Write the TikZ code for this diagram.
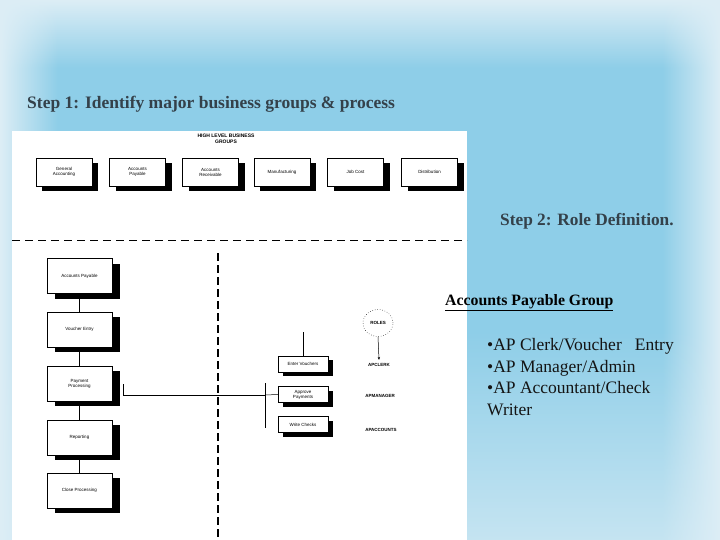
\documentclass[tikz,border=0pt]{standalone}
\usepackage{fontspec}
\setmainfont{Liberation Serif}
\newfontfamily\boxfont{Liberation Sans}
\usetikzlibrary{shadows,shapes.geometric,fadings,arrows.meta}
\definecolor{bgmid}{HTML}{8ECEE8}
\definecolor{bgedge}{HTML}{DDEEF6}
\definecolor{titlecol}{HTML}{34414A}
\tikzfading[name=fadetop, top color=transparent!0, bottom color=transparent!100]
\tikzfading[name=fadebot, top color=transparent!100, bottom color=transparent!0]
\tikzfading[name=fadeleft, left color=transparent!0, right color=transparent!100]
\tikzfading[name=faderight, left color=transparent!100, right color=transparent!0]
\tikzset{
  topbox/.style={draw, line width=0.4pt, fill=white, minimum width=56pt, minimum height=28pt,
    inner sep=1pt, align=center, font=\boxfont\fontsize{4.5}{5}\selectfont,
    drop shadow={shadow xshift=6pt, shadow yshift=-5pt, opacity=1, fill=black}},
  leftbox/.style={draw, line width=0.4pt, fill=white, minimum width=65pt, minimum height=35pt,
    inner sep=1pt, align=center, font=\boxfont\fontsize{4.5}{5}\selectfont,
    drop shadow={shadow xshift=8pt, shadow yshift=-5pt, opacity=1, fill=black}},
  rolebox/.style={draw, line width=0.4pt, fill=white, minimum width=50pt, minimum height=16pt,
    inner sep=1pt, align=center, font=\boxfont\fontsize{4.5}{5}\selectfont,
    drop shadow={shadow xshift=5pt, shadow yshift=-4pt, opacity=1, fill=black}},
  rolelabel/.style={font=\boxfont\bfseries\fontsize{4.5}{5}\selectfont},
  conn/.style={line width=0.5pt},
}
\begin{document}
\begin{tikzpicture}[x=1pt,y=-1pt]
\useasboundingbox (0,0) rectangle (720,540);
% background
\fill[bgmid] (0,0) rectangle (720,540);
\fill[bgedge, path fading=fadetop] (0,0) rectangle (720,68);
\fill[bgedge, path fading=fadeleft] (0,0) rectangle (58,540);
\fill[bgedge, path fading=faderight] (662,0) rectangle (720,540);
\fill[bgedge, path fading=fadebot, opacity=0.7] (0,330) rectangle (720,540);
% titles
\node[anchor=west, inner sep=0pt, text=titlecol, font=\bfseries\fontsize{17.5}{20}\selectfont] (t1) at (27,104) {Step 1: Identify major business groups \& process};
% white inset
\fill[white] (12,131) rectangle (467,540);
\node[anchor=west, inner sep=0pt, text=titlecol, font=\bfseries\fontsize{17.3}{19}\selectfont] (t2) at (500,221) {Step 2: Role Definition.};
\node[anchor=west, inner sep=0pt, font=\bfseries\fontsize{15.8}{18}\selectfont] (grp) at (445,303) {\underline{Accounts Payable Group}};
\node[anchor=north west, inner sep=0pt, align=left, text=black!92, font=\fontsize{17.5}{21.7}\selectfont] (roles) at (487,338)
  {•AP Clerk/Voucher\ \ \ Entry\\•AP Manager/Admin\\•AP Accountant/Check\\Writer};
% header
\node[font=\boxfont\bfseries\fontsize{5}{6.5}\selectfont, align=center] (hdr) at (226,139) {HIGH LEVEL BUSINESS\\GROUPS};
% top boxes
\node[topbox] (ga) at (64,172) {General\\Accounting};
\node[topbox] (ap) at (137.5,172) {Accounts\\Payable};
\node[topbox] (ar) at (210.5,172) {Accounts\\Receivable};
\node[topbox] (mf) at (282,172) {Manufacturing};
\node[topbox] (jc) at (355.5,172) {Job Cost};
\node[topbox] (ds) at (429.5,172) {Distribution};
% separators
\draw[line width=0.6pt, dash pattern=on 8pt off 5pt] (12,240.5) -- (467,240.5);
\draw[line width=1.8pt, dash pattern=on 8pt off 4pt] (218,253) -- (218,540);
% left column
\node[leftbox] (lap) at (79.5,276) {Accounts Payable};
\node[leftbox] (lve) at (79.5,329.5) {Voucher Entry};
\node[leftbox] (lpp) at (79.5,383.5) {Payment\\Processing};
\node[leftbox] (lrp) at (79.5,437.5) {Reporting};
\node[leftbox] (lcp) at (79.5,490.5) {Close Processing};
\draw[conn] (lap.south) -- (lve.north);
\draw[conn] (lve.south) -- (lpp.north);
\draw[conn] (lpp.south) -- (lrp.north);
\draw[conn] (lrp.south) -- (lcp.north);
% role boxes
\node[rolebox] (ev) at (303,364) {Enter Vouchers};
\node[rolebox] (apv) at (303,394.5) {Approve\\Payments};
\node[rolebox] (wc) at (303,424.5) {Write Checks};
\coordinate (evtop) at (303,332);
\draw[conn] (evtop) -- (ev.north);
\coordinate (ppa) at (123,384);
\coordinate (ppb) at (123,395);
\coordinate (bar) at (265,395);
\coordinate (bartop) at (265,383);
\coordinate (barbot) at (265,428);
\draw[conn] (ppa) -- (ppb) -- (bar);
\draw[conn] (bartop) -- (barbot);
\draw[conn] (bar) -- (apv.west);
% roles
\node[ellipse, draw, dotted, line width=0.5pt, minimum width=30pt, minimum height=27pt, inner sep=0pt,
  font=\boxfont\bfseries\fontsize{4.5}{5}\selectfont] (rl) at (378,323) {ROLES};
\node[rolelabel] (clerk) at (379,365) {APCLERK};
\node[rolelabel] (mgr) at (380,396) {APMANAGER};
\node[rolelabel] (acc) at (381,430) {APACCOUNTS};
\draw[conn, -{Stealth[length=3pt,width=2.5pt]}] (rl.south) -- (clerk.north);
\end{tikzpicture}
\end{document}
